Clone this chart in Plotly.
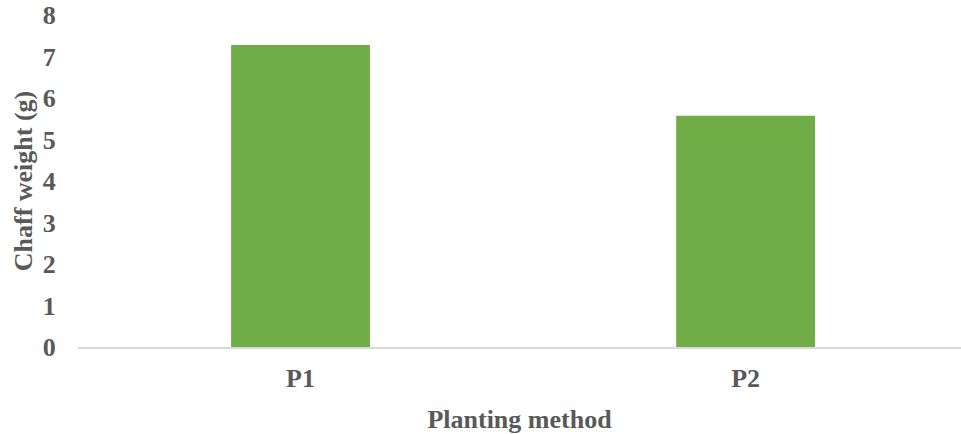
import plotly.graph_objects as go

methods = ["P1", "P2"]
chaff_weight = [7.28, 5.57]
y_ticks = [0, 1, 2, 3, 4, 5, 6, 7, 8]

font_family = "Liberation Serif, Times New Roman, serif"
text_color = "#595959"

fig = go.Figure(
    go.Bar(
        x=methods,
        y=chaff_weight,
        marker=dict(color="#70AD47", line=dict(width=0)),
        width=0.312,
    )
)

fig.update_layout(
    width=961,
    height=434,
    margin=dict(l=78, r=0, t=15, b=87),
    paper_bgcolor="white",
    plot_bgcolor="white",
    showlegend=False,
    font=dict(family=font_family, color=text_color, size=26),
    xaxis=dict(
        range=[-0.5, 1.484],
        showgrid=False,
        showline=True,
        linecolor="#D9D9D9",
        linewidth=1.5,
        ticks="outside",
        ticklen=7,
        tickcolor="rgba(0,0,0,0)",
        tickfont=dict(family=font_family, size=26, color=text_color, weight="bold"),
        title=dict(
            text="<b>Planting method</b>",
            font=dict(family=font_family, size=26, color=text_color),
            standoff=19,
        ),
    ),
    yaxis=dict(
        range=[0, 8],
        tickvals=y_ticks,
        showgrid=False,
        zeroline=False,
        showline=False,
        ticks="outside",
        ticklen=16,
        tickcolor="rgba(0,0,0,0)",
        tickfont=dict(family=font_family, size=26, color=text_color, weight="bold"),
        title=dict(
            text="<b>Chaff weight (g)</b>",
            font=dict(family=font_family, size=26, color=text_color),
            standoff=2,
        ),
    ),
)

fig.write_html("out.html")
